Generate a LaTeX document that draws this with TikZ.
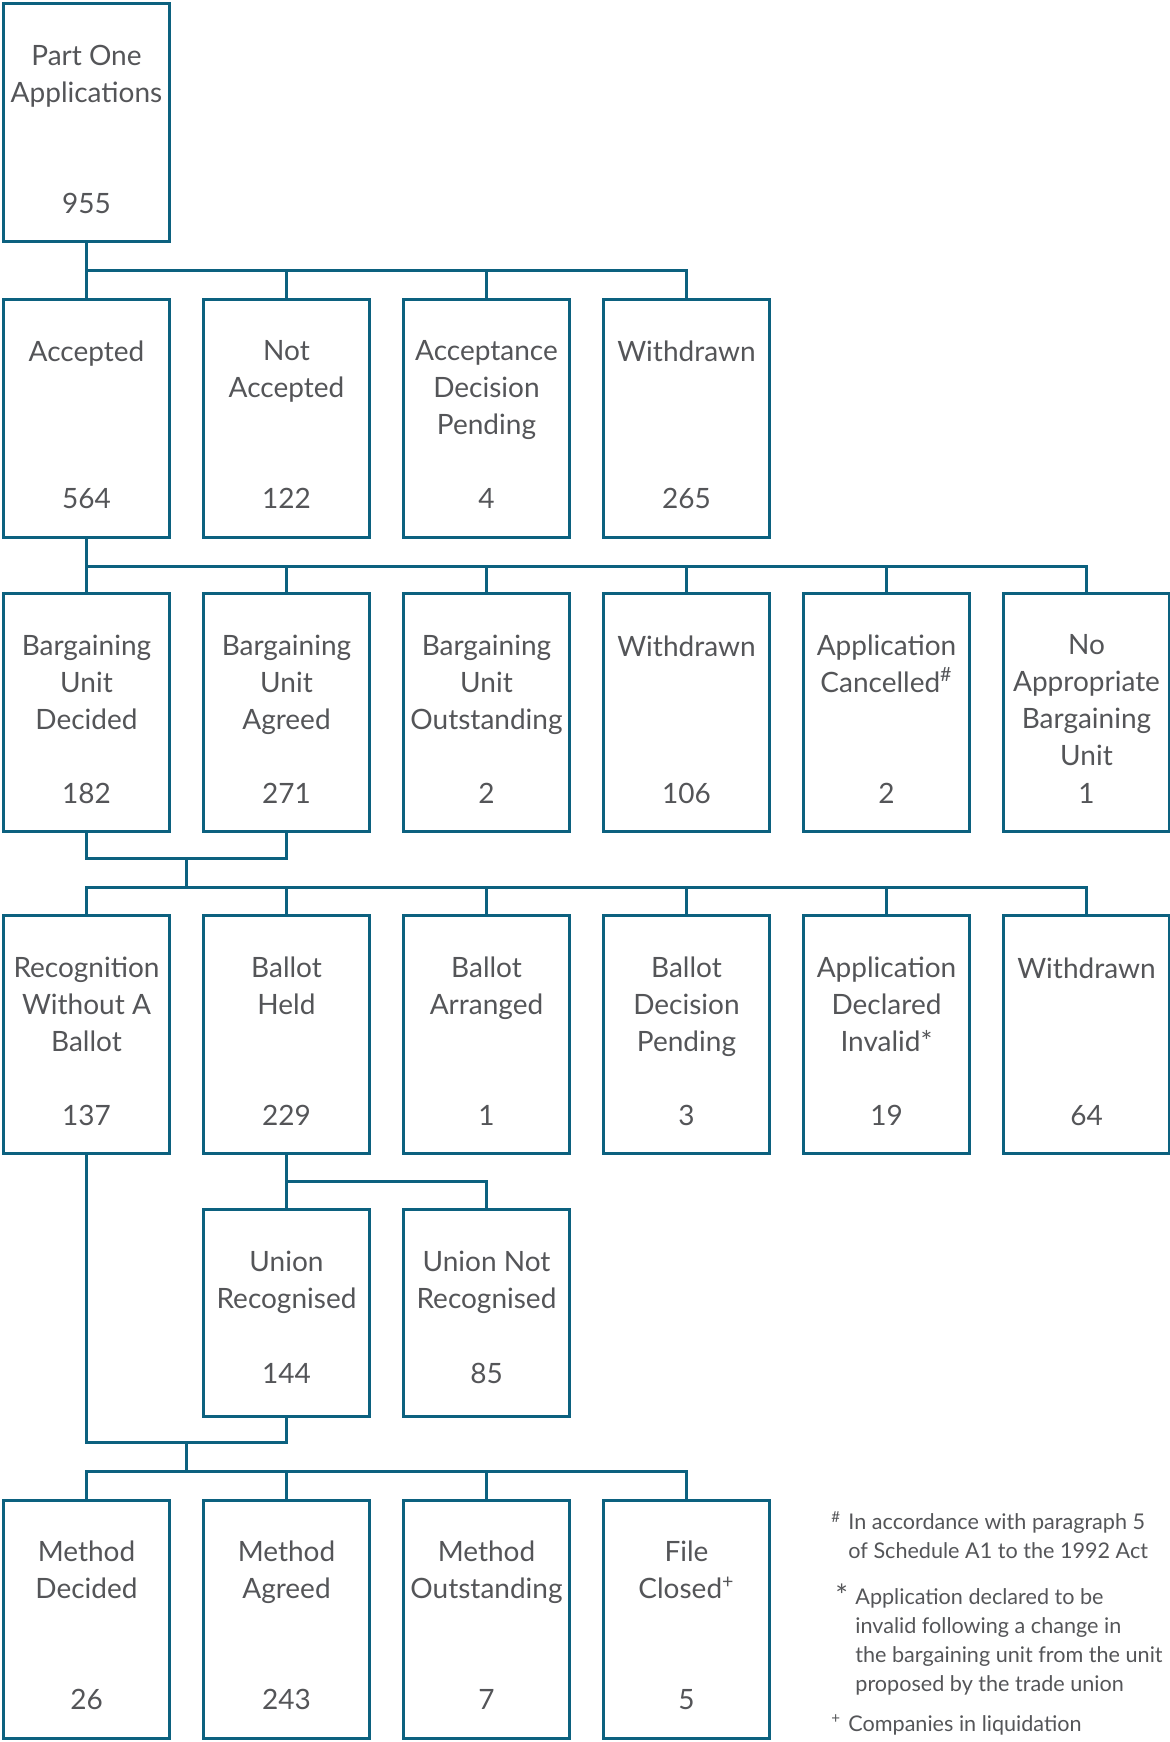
\documentclass[tikz,border=0pt]{standalone}
\usepackage{fontspec}
\setmainfont{Lato}
\usepackage{tikz}
\definecolor{boxline}{RGB}{12,97,127}
\definecolor{boxtext}{RGB}{84,85,88}

\begin{document}
\begin{tikzpicture}[x=0.5pt,y=-0.5pt,node distance=100pt]
\tikzstyle{stage}=[draw=boxline,line width=1.5pt,minimum width=83pt,minimum height=119pt,inner sep=0pt]
\tikzstyle{short}=[minimum height=103.5pt]
\tikzstyle{title}=[anchor=north,yshift=-21.2pt,align=center,inner sep=0pt,text=boxtext,
                   font=\fontsize{14}{18.5}\selectfont,execute at begin node=\strut]
\tikzstyle{single}=[yshift=2.2pt]
\tikzstyle{count}=[anchor=base,yshift=15pt,inner sep=0pt,text=boxtext,font=\fontsize{14}{18.5}\selectfont]
\tikzstyle{link}=[draw=boxline,line width=1.5pt]
\tikzstyle{note}=[anchor=north west,inner sep=0pt,align=left,text=boxtext,
                  font=\fontsize{10.8}{14.5}\selectfont,execute at begin node=\strut]
\useasboundingbox (0,0) rectangle (1169,1742);

% row 0
\node [stage] (app) at (86.5,122.5) {};
\node [title] (app-t) at (app.north) {Part One\\Applications};
\node [count] (app-n) at (app.south) {955};

% row 1
\node [stage] (acc) at (86.5,418) {};
\node [stage] [right of=acc] (nacc) {};
\node [stage] [right of=nacc] (pend) {};
\node [stage] [right of=pend] (wdr) {};
\node [title,single] (acc-t) at (acc.north) {Accepted};
\node [count] (acc-n) at (acc.south) {564};
\node [title] (nacc-t) at (nacc.north) {Not\\Accepted};
\node [count] (nacc-n) at (nacc.south) {122};
\node [title] (pend-t) at (pend.north) {Acceptance\\Decision\\Pending};
\node [count] (pend-n) at (pend.south) {4};
\node [title,single] (wdr-t) at (wdr.north) {Withdrawn};
\node [count] (wdr-n) at (wdr.south) {265};

% row 2
\node [stage] (bud) at (86.5,712.5) {};
\node [stage] [right of=bud] (bua) {};
\node [stage] [right of=bua] (buo) {};
\node [stage] [right of=buo] (wdrb) {};
\node [stage] [right of=wdrb] (canc) {};
\node [stage] [right of=canc] (nabu) {};
\node [title] (bud-t) at (bud.north) {Bargaining\\Unit\\Decided};
\node [count] (bud-n) at (bud.south) {182};
\node [title] (bua-t) at (bua.north) {Bargaining\\Unit\\Agreed};
\node [count] (bua-n) at (bua.south) {271};
\node [title] (buo-t) at (buo.north) {Bargaining\\Unit\\Outstanding};
\node [count] (buo-n) at (buo.south) {2};
\node [title,single] (wdrb-t) at (wdrb.north) {Withdrawn};
\node [count] (wdrb-n) at (wdrb.south) {106};
\node [title] (canc-t) at (canc.north) {Application\\Cancelled\textsuperscript{\#}};
\node [count] (canc-n) at (canc.south) {2};
\node [title] (nabu-t) at (nabu.north) {No\\Appropriate\\Bargaining\\Unit};
\node [count] (nabu-n) at (nabu.south) {1};

% row 3
\node [stage] (rwb) at (86.5,1034.5) {};
\node [stage] [right of=rwb] (held) {};
\node [stage] [right of=held] (arr) {};
\node [stage] [right of=arr] (bdp) {};
\node [stage] [right of=bdp] (inv) {};
\node [stage] [right of=inv] (wdrc) {};
\node [title] (rwb-t) at (rwb.north) {Recognition\\Without A\\Ballot};
\node [count] (rwb-n) at (rwb.south) {137};
\node [title] (held-t) at (held.north) {Ballot\\Held};
\node [count] (held-n) at (held.south) {229};
\node [title] (arr-t) at (arr.north) {Ballot\\Arranged};
\node [count] (arr-n) at (arr.south) {1};
\node [title] (bdp-t) at (bdp.north) {Ballot\\Decision\\Pending};
\node [count] (bdp-n) at (bdp.south) {3};
\node [title] (inv-t) at (inv.north) {Application\\Declared\\Invalid*};
\node [count] (inv-n) at (inv.south) {19};
\node [title,single] (wdrc-t) at (wdrc.north) {Withdrawn};
\node [count] (wdrc-n) at (wdrc.south) {64};

% row 4
\node [stage,short] (urec) at (286.5,1313) {};
\node [stage,short] [right of=urec] (unrec) {};
\node [title] (urec-t) at (urec.north) {Union\\Recognised};
\node [count,yshift=2.5pt] (urec-n) at (urec.south) {144};
\node [title] (unrec-t) at (unrec.north) {Union Not\\Recognised};
\node [count,yshift=2.5pt] (unrec-n) at (unrec.south) {85};

% row 5
\node [stage] (mdec) at (86.5,1619) {};
\node [stage] [right of=mdec] (magr) {};
\node [stage] [right of=magr] (mout) {};
\node [stage] [right of=mout] (clsd) {};
\node [title] (mdec-t) at (mdec.north) {Method\\Decided};
\node [count] (mdec-n) at (mdec.south) {26};
\node [title] (magr-t) at (magr.north) {Method\\Agreed};
\node [count] (magr-n) at (magr.south) {243};
\node [title] (mout-t) at (mout.north) {Method\\Outstanding};
\node [count] (mout-n) at (mout.south) {7};
\node [title] (clsd-t) at (clsd.north) {File\\Closed\textsuperscript{+}};
\node [count] (clsd-n) at (clsd.south) {5};

% joints
\coordinate (j1) at (86.5,270);
\coordinate (j2) at (86.5,566);
\coordinate (j3) at (186.5,858);
\coordinate (j4) at (186.5,887);
\coordinate (j5) at (286.5,1181);
\coordinate (j6) at (186.5,1442);
\coordinate (j7) at (186.5,1471);

\path [link] (app.south) -- (acc.north)
             (j1) -| (nacc.north)
             (j1) -| (pend.north)
             (j1) -| (wdr.north);

\path [link] (acc.south) -- (bud.north)
             (j2) -| (bua.north)
             (j2) -| (buo.north)
             (j2) -| (wdrb.north)
             (j2) -| (canc.north)
             (j2) -| (nabu.north);

\path [link] (bud.south) |- (j3) -| (bua.south)
             (j3) -- (j4)
             (j4) -| (rwb.north)
             (j4) -| (held.north)
             (j4) -| (arr.north)
             (j4) -| (bdp.north)
             (j4) -| (inv.north)
             (j4) -| (wdrc.north);

\path [link] (held.south) -- (urec.north)
             (j5) -| (unrec.north);

\path [link] (rwb.south) |- (j6) -| (urec.south)
             (j6) -- (j7)
             (j7) -| (mdec.north)
             (j7) -| (magr.north)
             (j7) -| (mout.north)
             (j7) -| (clsd.north);

% footnotes
\node [note] (fn1-m) at (831,1510) {\textsuperscript{\#}};
\node [note] (fn1) at (848,1513) {In accordance with paragraph 5\\of Schedule A1 to the 1992 Act};
\node [note] (fn2-m) at (835,1583) {{\fontsize{15}{15}\selectfont *}};
\node [note] (fn2) at (855,1588) {Application declared to be\\invalid following a change in\\the bargaining unit from the unit\\proposed by the trade union};
\node [note] (fn3-m) at (831,1711) {\textsuperscript{+}};
\node [note] (fn3) at (848,1711) {Companies in liquidation};

\end{tikzpicture}
\end{document}
